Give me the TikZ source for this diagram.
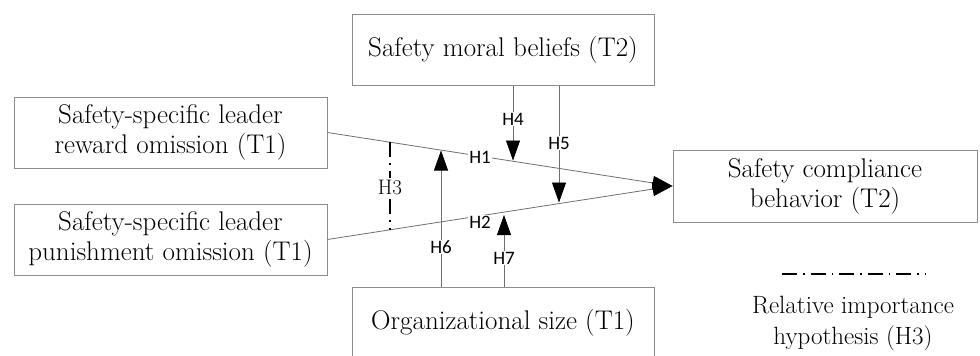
\documentclass[tikz,border=0pt]{standalone}
\usepackage{fontspec}
\newfontfamily\labfont{Carlito}
\usetikzlibrary{arrows.meta}
\definecolor{boxgray}{HTML}{8C8C8C}
\definecolor{linegray}{HTML}{6E6E6E}
\tikzset{
  var/.style={draw=boxgray, line width=0.9pt, inner sep=0pt, align=center,
    font=\fontsize{27}{30}\selectfont},
  path/.style={draw=linegray, line width=0.8pt,
    -{Triangle[length=20pt,width=14pt,color=black]}},
  hyp/.style={font=\labfont\fontsize{19}{22}\selectfont, inner sep=1pt},
  rel/.style={draw=black, line width=1.4pt, dash pattern=on 15pt off 6pt on 1.5pt off 6pt},
}
\begin{document}
\begin{tikzpicture}[x=1pt,y=-1pt]
\useasboundingbox (0,0) rectangle (980,356);
% boxes
\node[var, minimum width=313pt, minimum height=71pt] (rew) at (170.5,132.5)
  {Safety-specific leader\\reward omission (T1)};
\node[var, minimum width=313pt, minimum height=71pt] (pun) at (170.5,239.5)
  {Safety-specific leader\\punishment omission (T1)};
\node[var, minimum width=302pt, minimum height=71pt] (moral) at (503,50)
  {Safety moral beliefs (T2)};
\node[var, minimum width=302pt, minimum height=71pt] (size) at (503,322.5)
  {Organizational size (T1)};
\node[var, minimum width=304pt, minimum height=72pt] (comp) at (825,186)
  {Safety compliance\\behavior (T2)};
% main paths
\draw[path] (rew.east) -- (comp.west);
\draw[path] (pun.east) -- (comp.west);
% moderation points
\coordinate (h4) at (513,160.5);
\coordinate (h5) at (559,202.5);
\coordinate (h6) at (441,150.5);
\coordinate (h7) at (504,215);
\draw[path] (moral.south -| h4) -- (h4);
\draw[path] (moral.south -| h5) -- (h5);
\draw[path] (size.north -| h6) -- (h6);
\draw[path] (size.north -| h7) -- (h7);
% labels
\node[hyp, fill=white] (l4) at (513,119) {H4};
\node[hyp, fill=white] (l5) at (559,143) {H5};
\node[hyp, fill=white] (l6) at (441,247) {H6};
\node[hyp, fill=white] (l7) at (504,258) {H7};
\node[hyp, fill=white] (l1) at (480,157) {H1};
\node[hyp, fill=white] (l2) at (480,222) {H2};
% relative importance
\coordinate (h3a) at (390,142);
\coordinate (h3b) at (390,229.5);
\draw[rel] (h3a) -- (h3b);
\node[fill=white, inner sep=2pt, font=\fontsize{21}{24}\selectfont] (l3) at (390,187) {H3};
% legend
\coordinate (la) at (782,274);
\coordinate (lb) at (925,274);
\draw[rel] (la) -- (lb);
\node[align=center, font=\fontsize{25}{31}\selectfont] (legend) at (853,323)
  {Relative importance\\hypothesis (H3)};
\end{tikzpicture}
\end{document}
